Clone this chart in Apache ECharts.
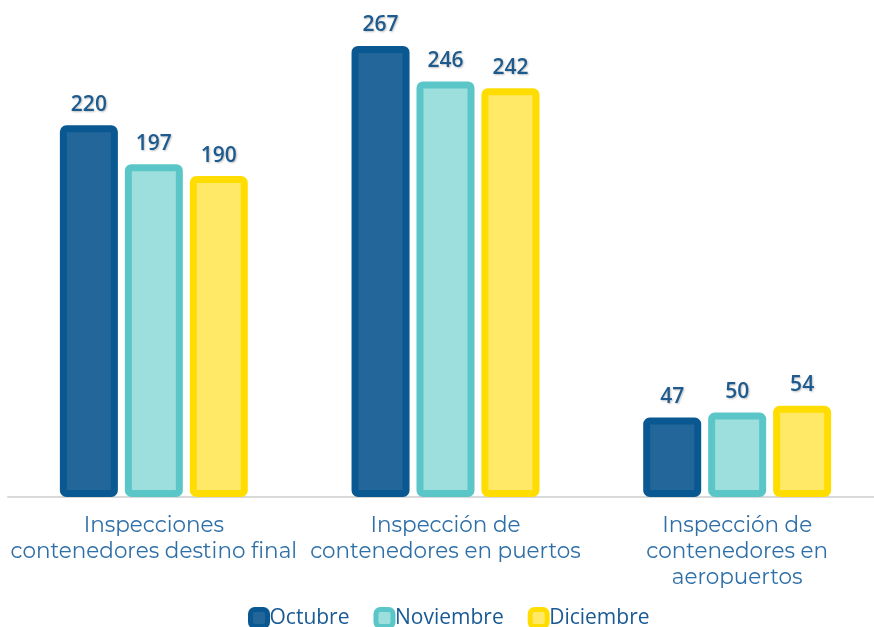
<!DOCTYPE html>
<html><head><meta charset="utf-8">
<script src="https://cdn.jsdelivr.net/npm/echarts@6/dist/echarts.min.js"></script>
<style>html,body{margin:0;padding:0;background:#fff}#c{width:874px;height:627px}</style>
</head><body><div id="c"></div>
<script>
const categories = ['Inspecciones\ncontenedores destino final', 'Inspección de\ncontenedores en puertos', 'Inspección de\ncontenedores en\naeropuertos'];
const seriesNames = ['Octubre', 'Noviembre', 'Diciembre'];
const octubre = [220, 267, 47];
const noviembre = [197, 246, 50];
const diciembre = [190, 242, 54];

const styles = [
  {fill: '#236699', border: '#0a5891'},
  {fill: '#9ddfdd', border: '#5bc6c8'},
  {fill: '#ffe967', border: '#ffdd00'}
];
const values = [octubre, noviembre, diciembre];

const chart = echarts.init(document.getElementById('c'));
chart.setOption({
  animation: false,
  grid: {left: 8, width: 875, top: 24, bottom: 130, outerBoundsMode: 'none', containLabel: false},
  legend: {
    bottom: -2, left: 248, padding: 0, itemWidth: 17, itemHeight: 17, itemGap: 24,
    textStyle: {fontFamily: 'Open Sans', fontSize: 21, color: '#1a5a94', padding: [0, 0, 0, -3]},
    data: seriesNames.map((n, i) => ({name: n, icon: 'roundRect', itemStyle: {color: styles[i].fill, borderColor: styles[i].border, borderWidth: 5}}))
  },
  xAxis: {
    type: 'category', data: categories,
    axisLine: {lineStyle: {color: '#d9d9d9', width: 2}},
    axisTick: {show: false},
    axisLabel: {interval: 0, fontFamily: 'Montserrat, Open Sans', fontSize: 21.5, color: '#2e6fa8', lineHeight: 26, margin: 16}
  },
  yAxis: {type: 'value', min: 0, max: 280, show: false, splitLine: {show: false}},
  series: values.map((v, i) => ({
    name: seriesNames[i], type: 'bar', data: v, barWidth: 58, barGap: '12%',
    itemStyle: {color: styles[i].fill, borderColor: styles[i].border, borderWidth: 7, borderRadius: 3},
    label: {show: true, position: 'top', distance: 10, fontFamily: 'Open Sans', fontWeight: 600, fontSize: 21, color: '#1d5a8e',
      textShadowColor: 'rgba(0,0,0,0.25)', textShadowBlur: 2, textShadowOffsetX: 1, textShadowOffsetY: 1}
  }))
});
</script></body></html>
